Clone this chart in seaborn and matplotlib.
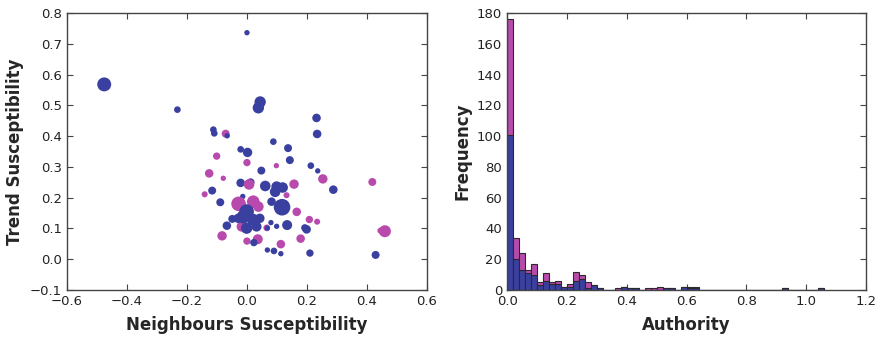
import numpy as np
import pandas as pd
import matplotlib
matplotlib.use('Agg')
import matplotlib.pyplot as plt
import seaborn as sns

BLUE = '#3a40a0'
MAGENTA = '#b84aad'

# scatter: neighbours susceptibility vs trend susceptibility
neigh = [0.05, -0.476, 0.0, -0.232, 0.044, 0.038, 0.232, 0.234, -0.112, -0.109,
         -0.071, -0.066, 0.088, 0.137, -0.021, 0.002, -0.101, 0.0, 0.098, 0.143,
         0.213, 0.236, 0.048, -0.126, -0.079, 0.253, 0.418, 0.288, -0.021, 0.012,
         0.007, 0.061, 0.099, 0.119, 0.094, 0.157, 0.132, -0.116, -0.141, -0.089,
         -0.014, 0.082, 0.117, -0.028, 0.021, 0.038, 0.166, -0.018, -0.001, -0.012,
         0.021, 0.043, -0.029, -0.001, 0.032, -0.049, 0.08, 0.134, 0.208, 0.234,
         -0.067, 0.199, 0.193, 0.445, 0.46, 0.066, 0.068, 0.099, -0.083, 0.0,
         0.036, 0.023, 0.113, 0.179, 0.068, 0.09, 0.113, 0.21, 0.429]
trend = [0.505, 0.568, 0.736, 0.486, 0.511, 0.492, 0.459, 0.407, 0.421, 0.409,
         0.408, 0.401, 0.382, 0.361, 0.357, 0.347, 0.335, 0.314, 0.304, 0.322,
         0.304, 0.287, 0.288, 0.279, 0.263, 0.261, 0.251, 0.226, 0.248, 0.25,
         0.243, 0.238, 0.236, 0.233, 0.219, 0.244, 0.208, 0.223, 0.211, 0.185,
         0.204, 0.187, 0.169, 0.18, 0.187, 0.171, 0.154, 0.106, 0.155, 0.138,
         0.128, 0.133, 0.133, 0.101, 0.106, 0.131, 0.119, 0.111, 0.129, 0.122,
         0.109, 0.097, 0.102, 0.093, 0.091, 0.102, 0.101, 0.107, 0.076, 0.059,
         0.065, 0.054, 0.049, 0.067, 0.030, 0.027, 0.018, 0.020, 0.014]
group = ['m', 'b', 'b', 'b', 'b', 'b', 'b', 'b', 'b', 'b',
         'm', 'b', 'b', 'b', 'b', 'b', 'm', 'm', 'm', 'b',
         'b', 'b', 'b', 'm', 'm', 'm', 'm', 'b', 'b', 'b',
         'm', 'b', 'b', 'b', 'b', 'm', 'm', 'b', 'm', 'b',
         'b', 'b', 'b', 'm', 'm', 'm', 'm', 'm', 'b', 'b',
         'b', 'b', 'b', 'b', 'b', 'b', 'b', 'b', 'm', 'm',
         'b', 'b', 'b', 'm', 'm', 'm', 'b', 'b', 'm', 'm',
         'm', 'b', 'm', 'm', 'b', 'b', 'b', 'b', 'b']
weight = [19, 101, 15, 23, 67, 67, 38, 38, 23, 23,
          33, 15, 23, 33, 23, 46, 28, 28, 15, 33,
          23, 15, 33, 38, 15, 46, 33, 38, 38, 33,
          58, 58, 58, 58, 58, 46, 19, 33, 19, 33,
          15, 38, 143, 110, 82, 58, 38, 52, 110, 93,
          75, 46, 46, 67, 52, 33, 15, 52, 28, 19,
          38, 38, 28, 19, 75, 23, 15, 15, 46, 28,
          52, 28, 38, 38, 15, 23, 15, 28, 33]

# histogram of authority, 0.02 wide bins
bin_left = [round(0.02 * i, 2) for i in range(53)]
count_blue = [101, 20, 13, 11, 10, 3, 6, 4, 4, 2, 2, 6, 7, 1, 3, 1, 0, 0, 0, 2,
              1, 1, 0, 0, 0, 0, 1, 1, 0, 2, 1, 1, 0, 0, 0, 0, 0, 0, 0, 0,
              0, 0, 0, 0, 0, 0, 1, 0, 0, 0, 0, 0, 1]
count_mag = [75, 14, 11, 2, 7, 2, 5, 1, 2, 0, 2, 6, 3, 4, 0, 0, 0, 0, 1, 0,
             0, 0, 0, 1, 1, 2, 0, 0, 0, 0, 1, 1, 0, 0, 0, 0, 0, 0, 0, 0,
             0, 0, 0, 0, 0, 0, 0, 0, 0, 0, 0, 0, 0]

sc = pd.DataFrame({'neigh': neigh, 'trend': trend, 'group': group, 'weight': weight})
hist = pd.concat([
    pd.DataFrame({'authority': [b + 0.01 for b in bin_left], 'count': count_blue, 'group': 'b'}),
    pd.DataFrame({'authority': [b + 0.01 for b in bin_left], 'count': count_mag, 'group': 'm'}),
])
edges = bin_left + [1.06]

sns.set_style('ticks')
plt.rcParams.update({
    'font.family': ['DejaVu Sans'],
    'xtick.direction': 'in', 'ytick.direction': 'in',
    'xtick.top': True, 'ytick.right': True,
    'xtick.major.size': 4, 'ytick.major.size': 4,
    'axes.edgecolor': '#444444', 'axes.linewidth': 1.0,
    'xtick.color': '#444444', 'ytick.color': '#444444',
    'xtick.labelcolor': '#222222', 'ytick.labelcolor': '#222222',
    'xtick.labelsize': 9.5, 'ytick.labelsize': 9.5,
})

fig = plt.figure(figsize=(8.82, 3.42), dpi=100)
ax1 = fig.add_axes([0.076, 0.152, 0.408, 0.810])
ax2 = fig.add_axes([0.575, 0.152, 0.407, 0.810])

pal = {'b': BLUE, 'm': MAGENTA}
sns.scatterplot(data=sc, x='neigh', y='trend', hue='group', size='weight',
                sizes=(15, 143), size_norm=(15, 143), palette=pal,
                linewidth=0, alpha=1, legend=False, ax=ax1)
ax1.set_xlim(-0.6, 0.6)
ax1.set_ylim(-0.1, 0.8)
ax1.set_xticks([-0.6, -0.4, -0.2, 0.0, 0.2, 0.4, 0.6])
ax1.set_yticks([-0.1, 0.0, 0.1, 0.2, 0.3, 0.4, 0.5, 0.6, 0.7, 0.8])
ax1.set_xlabel('Neighbours Susceptibility', fontsize=12, fontweight='bold', labelpad=6)
ax1.set_ylabel('Trend Susceptibility', fontsize=12, fontweight='bold', labelpad=4)

sns.histplot(data=hist, x='authority', weights='count', hue='group',
             hue_order=['m', 'b'], palette=pal, bins=edges, multiple='stack',
             alpha=1, edgecolor='#2a2a2a', linewidth=0.8, legend=False, ax=ax2)
ax2.set_xlim(0, 1.2)
ax2.set_ylim(0, 180)
ax2.set_xticks([0.0, 0.2, 0.4, 0.6, 0.8, 1.0, 1.2])
ax2.set_yticks(range(0, 181, 20))
ax2.set_xlabel('Authority', fontsize=12, fontweight='bold', labelpad=6)
ax2.set_ylabel('Frequency', fontsize=12, fontweight='bold', labelpad=4)

fig.savefig('out.png', dpi=100)
